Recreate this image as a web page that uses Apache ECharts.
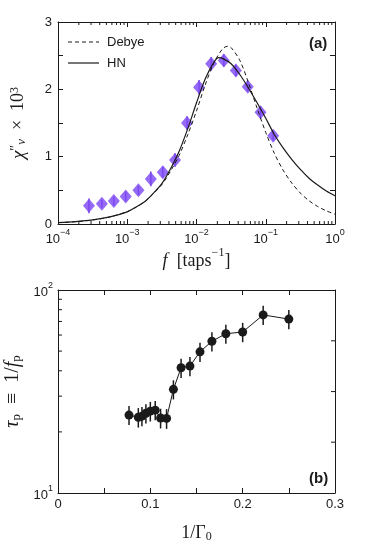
<!DOCTYPE html>
<html>
<head>
<meta charset="utf-8">
<script src="https://cdn.jsdelivr.net/npm/echarts@6/dist/echarts.min.js"></script>
<style>
  html, body { margin: 0; padding: 0; background: #fff; }
  #chart { width: 374px; height: 548px; }
</style>
</head>
<body>
<div id="chart"></div>
<script>
// ---- panel (a): chi'' vs f ----
const freqA = [2.8e-4, 4.3e-4, 6.4e-4, 9.5e-4, 1.45e-3, 2.19e-3, 3.26e-3, 4.9e-3, 7.3e-3, 1.09e-2, 1.63e-2, 2.48e-2, 3.7e-2, 5.5e-2, 8.4e-2, 0.128];
const chiA = [0.27, 0.30, 0.34, 0.41, 0.50, 0.67, 0.77, 0.95, 1.50, 2.03, 2.38, 2.43, 2.28, 2.04, 1.66, 1.31];
const chiErr = [0.11, 0.06, 0.07, 0.07, 0.07, 0.11, 0.08, 0.1, 0.1, 0.11, 0.1, 0.09, 0.09, 0.07, 0.09, 0.07];

// Debye curve (dashed)
const debyeF = [1e-4, 1.78e-4, 3.16e-4, 5.62e-4, 1e-3, 1.33e-3, 1.78e-3, 2.37e-3, 3.16e-3, 4.22e-3, 5.62e-3, 7.5e-3, 1e-2, 1.33e-2, 1.78e-2, 2.37e-2, 2.82e-2, 3.16e-2, 4.22e-2, 5.62e-2, 7.5e-2, 0.1, 0.133, 0.178, 0.237, 0.316, 0.422, 0.562, 0.75, 1];
const debyeChi = [0.02, 0.034, 0.06, 0.105, 0.185, 0.25, 0.33, 0.45, 0.585, 0.785, 1.02, 1.33, 1.68, 2.06, 2.39, 2.60, 2.64, 2.62, 2.43, 2.10, 1.72, 1.36, 1.05, 0.80, 0.61, 0.46, 0.345, 0.26, 0.195, 0.146];

// HN curve (solid)
const hnF = [1e-4, 1.78e-4, 3.16e-4, 5.62e-4, 1e-3, 1.33e-3, 1.78e-3, 2.37e-3, 3.16e-3, 4.22e-3, 5.62e-3, 7.5e-3, 1e-2, 1.33e-2, 1.78e-2, 2.09e-2, 2.37e-2, 3.16e-2, 4.22e-2, 5.62e-2, 7.5e-2, 0.1, 0.133, 0.178, 0.237, 0.316, 0.422, 0.562, 0.75, 1];
const hnChi = [0.02, 0.035, 0.06, 0.105, 0.18, 0.25, 0.33, 0.455, 0.60, 0.82, 1.08, 1.42, 1.80, 2.15, 2.40, 2.47, 2.46, 2.38, 2.22, 2.02, 1.80, 1.57, 1.33, 1.13, 0.96, 0.81, 0.68, 0.58, 0.49, 0.42];

// log minor ticks on f axis
const fMinor = [];
[1e-4, 1e-3, 1e-2, 1e-1].forEach(d => {
  [2, 3, 4, 5, 6, 7, 8, 9].forEach(k => fMinor.push(+(d * k).toPrecision(3)));
});

// ---- panel (b): tau_p vs 1/Gamma0 ----
const invGamma = [0.0769, 0.087, 0.0909, 0.0952, 0.1, 0.1053, 0.1111, 0.1176, 0.125, 0.1333, 0.1429, 0.1538, 0.1667, 0.1818, 0.2, 0.2222, 0.25];
const tauP = [24.2, 23.6, 23.9, 24.7, 25.3, 25.6, 23.4, 23.3, 32.4, 41.4, 42.2, 49.6, 55.9, 60.9, 62.1, 75.4, 71.9];
const tauErr = [2.6, 2.6, 2.6, 2.7, 2.8, 2.8, 2.6, 2.6, 3.5, 4.5, 4.6, 5.4, 6.1, 6.6, 6.8, 8.2, 7.8];

const tauMinorLeft = [20, 30, 40, 50, 60, 70, 80, 90];
const tauMinorRight = [17.8, 31.6, 56.2];

const purple = '#7b46f2';
const ink = '#1a1a1a';
const sans = 'Liberation Sans, Arial, sans-serif';
const serif = 'Liberation Serif, DejaVu Serif, serif';

const chart = echarts.init(document.getElementById('chart'));

const supRich = {
  b: { fontSize: 13, fontFamily: sans, color: ink, padding: [5, 0, 0, 0] },
  sup: { fontSize: 9, fontFamily: sans, color: ink, verticalAlign: 'top' }
};

function powLabel(v) {
  const e = Math.round(Math.log10(v));
  const s = e < 0 ? '\u2212' + (-e) : String(e);
  return '{b|10}{sup|' + s + '}';
}

function errBars(color, width) {
  return function (params, api) {
    const x = api.value(0);
    const p1 = api.coord([x, api.value(1)]);
    const p2 = api.coord([x, api.value(2)]);
    return {
      type: 'line',
      shape: { x1: p1[0], y1: p1[1], x2: p2[0], y2: p2[1] },
      style: { stroke: color, lineWidth: width }
    };
  };
}

// minor ticks on bottom + top edges (x position from the axis scale)
function minorX(len) {
  return function (params, api) {
    const cs = params.coordSys;
    const x = api.coord([api.value(0), api.value(1)])[0];
    const yb = cs.y + cs.height, yt = cs.y;
    return {
      type: 'group',
      children: [
        { type: 'line', shape: { x1: x, y1: yb, x2: x, y2: yb - len }, style: { stroke: ink, lineWidth: 1 } },
        { type: 'line', shape: { x1: x, y1: yt, x2: x, y2: yt + len }, style: { stroke: ink, lineWidth: 1 } }
      ]
    };
  };
}

// minor ticks on left (side 0) or right (side 1) edge (y position from the axis scale)
function minorY(side, len) {
  return function (params, api) {
    const cs = params.coordSys;
    const y = api.coord([api.value(0), api.value(1)])[1];
    const x0 = side === 0 ? cs.x : cs.x + cs.width;
    const dir = side === 0 ? 1 : -1;
    return {
      type: 'line',
      shape: { x1: x0, y1: y, x2: x0 + dir * len, y2: y },
      style: { stroke: ink, lineWidth: 1 }
    };
  };
}

const axisLine = { show: true, onZero: false, lineStyle: { color: ink, width: 1 } };
const tick = { show: true, inside: true, length: 5, lineStyle: { color: ink, width: 1 } };

const mainTok = { fontFamily: serif, fontSize: 18, color: ink, padding: [5, 0, 0, 0] };

chart.setOption({
  animation: false,
  backgroundColor: '#fff',
  grid: [
    { left: 58, top: 22, width: 277, height: 202, outerBoundsMode: 'none', containLabel: false },
    { left: 58, top: 290, width: 277, height: 203, outerBoundsMode: 'none', containLabel: false }
  ],
  xAxis: [
    {
      type: 'log', gridIndex: 0, logBase: 10, min: 1e-4, max: 1, position: 'bottom',
      axisLine, axisTick: tick, splitLine: { show: false },
      axisLabel: { formatter: powLabel, rich: supRich, margin: 4 },
      name: '{i|f}{n|  [taps}{sup|\u22121}{n|]}',
      nameLocation: 'middle', nameGap: 21,
      nameTextStyle: {
        fontFamily: serif, fontSize: 18, color: ink,
        rich: {
          i: Object.assign({}, mainTok, { fontStyle: 'italic' }),
          n: mainTok,
          sup: { fontFamily: serif, fontSize: 12, color: ink, verticalAlign: 'top' }
        }
      }
    },
    {
      type: 'log', gridIndex: 0, logBase: 10, min: 1e-4, max: 1, position: 'top',
      axisLine, axisTick: tick, splitLine: { show: false }, axisLabel: { show: false }
    },
    {
      type: 'value', gridIndex: 1, min: 0, max: 0.3, interval: 0.05, position: 'bottom',
      axisLine, axisTick: tick, splitLine: { show: false },
      axisLabel: {
        fontSize: 13, fontFamily: sans, color: ink, margin: 5,
        formatter: v => {
          const k = Math.round(v * 100);
          return k % 10 === 0 ? (k === 0 ? '0' : (k / 100).toFixed(1)) : '';
        }
      },
      name: '{n|1/\u0393}{sub|0}',
      nameLocation: 'middle', nameGap: 30,
      nameTextStyle: {
        fontFamily: serif, fontSize: 18, color: ink,
        rich: {
          n: { fontFamily: serif, fontSize: 18, color: ink },
          sub: { fontFamily: serif, fontSize: 12, color: ink, verticalAlign: 'bottom', padding: [8, 0, 0, 0] }
        }
      }
    },
    {
      type: 'value', gridIndex: 1, min: 0, max: 0.3, interval: 0.05, position: 'top',
      axisLine, axisTick: tick, splitLine: { show: false }, axisLabel: { show: false }
    }
  ],
  yAxis: [
    {
      type: 'value', gridIndex: 0, min: 0, max: 3, interval: 0.5, position: 'left',
      axisLine, axisTick: tick, splitLine: { show: false },
      axisLabel: {
        fontSize: 13, fontFamily: sans, color: ink, margin: 6,
        formatter: v => (Math.abs(v - Math.round(v)) < 1e-6 ? String(Math.round(v)) : '')
      },
      name: '{i|\u03c7}{s|\u2033}{sub|v}  \u00d7  10{sup|3}',
      nameLocation: 'middle', nameRotate: 90, nameGap: 30,
      nameTextStyle: {
        fontFamily: serif, fontSize: 18, color: ink,
        rich: {
          i: { fontFamily: serif, fontSize: 19, fontStyle: 'italic', color: ink },
          s: { fontFamily: serif, fontSize: 14, color: ink, verticalAlign: 'top' },
          sub: { fontFamily: serif, fontSize: 13, fontStyle: 'italic', color: ink, verticalAlign: 'bottom' },
          sup: { fontFamily: serif, fontSize: 12, color: ink, verticalAlign: 'top' }
        }
      }
    },
    {
      type: 'value', gridIndex: 0, min: 0, max: 3, interval: 0.5, position: 'right',
      axisLine, axisTick: tick, splitLine: { show: false }, axisLabel: { show: false }
    },
    {
      type: 'log', gridIndex: 1, logBase: 10, min: 10, max: 100, position: 'left',
      axisLine, axisTick: tick, splitLine: { show: false },
      axisLabel: { formatter: powLabel, rich: supRich, margin: 5 },
      name: '{i|\u03c4}{sub|p}  \u2261  1/{i|f}{sub|p}',
      nameLocation: 'middle', nameRotate: 90, nameGap: 29,
      nameTextStyle: {
        fontFamily: serif, fontSize: 20, color: ink,
        rich: {
          i: { fontFamily: serif, fontSize: 20, fontStyle: 'italic', color: ink },
          sub: { fontFamily: serif, fontSize: 13, color: ink, verticalAlign: 'bottom', padding: [7, 0, 0, 0] }
        }
      }
    },
    {
      type: 'log', gridIndex: 1, logBase: 10, min: 10, max: 100, position: 'right',
      axisLine, axisTick: { show: false }, splitLine: { show: false }, axisLabel: { show: false }
    }
  ],
  graphic: [
    { type: 'text', left: 309, top: 36, style: { text: '(a)', font: 'bold 15px ' + sans, fill: ink } },
    { type: 'text', left: 309, top: 471, style: { text: '(b)', font: 'bold 15px ' + sans, fill: ink } },
    // legend
    { type: 'line', shape: { x1: 68, y1: 42, x2: 99, y2: 42 }, style: { stroke: ink, lineWidth: 1, lineDash: [4, 3] } },
    { type: 'text', left: 107, top: 36, style: { text: 'Debye', font: '13px ' + sans, fill: ink } },
    { type: 'line', shape: { x1: 68, y1: 63, x2: 99, y2: 63 }, style: { stroke: ink, lineWidth: 1.2 } },
    { type: 'text', left: 107, top: 57, style: { text: 'HN', font: '13px ' + sans, fill: ink } }
  ],
  series: [
    {
      name: 'minorF', type: 'custom', xAxisIndex: 0, yAxisIndex: 0,
      renderItem: minorX(3), silent: true, z: 5,
      data: fMinor.map(v => [v, 1])
    },
    {
      name: 'Debye', type: 'line', xAxisIndex: 0, yAxisIndex: 0,
      data: debyeF.map((f, i) => [f, debyeChi[i]]),
      smooth: 0.3, symbol: 'none',
      lineStyle: { color: ink, width: 1, type: [4, 3] },
      itemStyle: { color: ink }
    },
    {
      name: 'HN', type: 'line', xAxisIndex: 0, yAxisIndex: 0,
      data: hnF.map((f, i) => [f, hnChi[i]]),
      smooth: 0.3, symbol: 'none',
      lineStyle: { color: ink, width: 1.2 },
      itemStyle: { color: ink }
    },
    {
      name: 'chiErr', type: 'custom', xAxisIndex: 0, yAxisIndex: 0,
      renderItem: errBars(purple, 1.5), silent: true,
      encode: { x: 0, y: [1, 2] },
      data: freqA.map((f, i) => [f, chiA[i] - chiErr[i], chiA[i] + chiErr[i]])
    },
    {
      name: 'chi', type: 'scatter', xAxisIndex: 0, yAxisIndex: 0,
      data: freqA.map((f, i) => [f, chiA[i]]),
      symbol: 'diamond', symbolSize: [12, 14],
      itemStyle: { color: purple }
    },
    {
      name: 'minorTauL', type: 'custom', xAxisIndex: 2, yAxisIndex: 2,
      renderItem: minorY(0, 4), silent: true, z: 5,
      data: tauMinorLeft.map(v => [0.15, v])
    },
    {
      name: 'minorTauR', type: 'custom', xAxisIndex: 2, yAxisIndex: 2,
      renderItem: minorY(1, 4), silent: true, z: 5,
      data: tauMinorRight.map(v => [0.15, v])
    },
    {
      name: 'tauErr', type: 'custom', xAxisIndex: 2, yAxisIndex: 2,
      renderItem: errBars(ink, 1.5), silent: true,
      encode: { x: 0, y: [1, 2] },
      data: invGamma.map((x, i) => [x, tauP[i] - tauErr[i], tauP[i] + tauErr[i]])
    },
    {
      name: 'tau', type: 'line', xAxisIndex: 2, yAxisIndex: 2,
      data: invGamma.map((x, i) => [x, tauP[i]]),
      symbol: 'circle', symbolSize: 9,
      lineStyle: { color: ink, width: 1 },
      itemStyle: { color: ink }
    }
  ]
});
</script>
</body>
</html>
